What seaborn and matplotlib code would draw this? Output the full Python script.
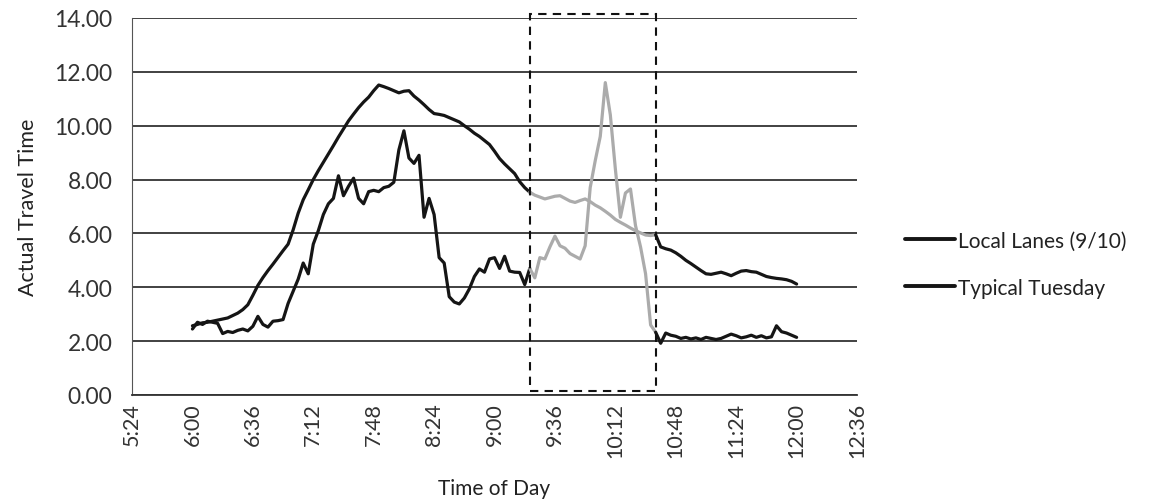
import numpy as np
import pandas as pd
import matplotlib
matplotlib.use("Agg")
import matplotlib.pyplot as plt
import seaborn as sns
from matplotlib.lines import Line2D
from matplotlib.patches import Rectangle
from matplotlib.ticker import FuncFormatter, MultipleLocator

# sample times, minutes after midnight, every 3 min from 6:00 to 12:00
minutes = list(range(360, 721, 3))

local_lanes = [
    2.45, 2.70, 2.62, 2.74, 2.70, 2.66, 2.28, 2.36, 2.32, 2.40,
    2.45, 2.38, 2.55, 2.92, 2.62, 2.52, 2.74, 2.76, 2.80, 3.40,
    3.85, 4.30, 4.90, 4.50, 5.60, 6.10, 6.70, 7.10, 7.30, 8.14,
    7.40, 7.75, 8.05, 7.30, 7.10, 7.55, 7.60, 7.55, 7.70, 7.75,
    7.90, 9.10, 9.81, 8.80, 8.60, 8.90, 6.60, 7.30, 6.70, 5.10,
    4.90, 3.65, 3.45, 3.38, 3.60, 3.94, 4.40, 4.68, 4.56, 5.05,
    5.10, 4.70, 5.15, 4.60, 4.56, 4.55, 4.10, 4.70, 4.35, 5.10,
    5.05, 5.50, 5.90, 5.54, 5.45, 5.25, 5.15, 5.05, 5.54, 7.70,
    8.70, 9.60, 11.60, 10.40, 8.39, 6.60, 7.50, 7.65, 6.29, 5.50,
    4.50, 2.60, 2.33, 1.92, 2.30, 2.22, 2.18, 2.10, 2.14, 2.08,
    2.12, 2.06, 2.14, 2.10, 2.06, 2.10, 2.18, 2.26, 2.20, 2.12,
    2.16, 2.22, 2.14, 2.20, 2.12, 2.16, 2.57, 2.35, 2.30, 2.22,
    2.14,
]

typical_tuesday = [
    2.57, 2.62, 2.68, 2.70, 2.74, 2.78, 2.82, 2.86, 2.95, 3.04,
    3.17, 3.35, 3.70, 4.07, 4.36, 4.62, 4.86, 5.11, 5.36, 5.60,
    6.13, 6.75, 7.25, 7.62, 8.00, 8.33, 8.64, 8.95, 9.26, 9.58,
    9.88, 10.18, 10.43, 10.67, 10.88, 11.06, 11.30, 11.51, 11.45, 11.38,
    11.30, 11.22, 11.28, 11.30, 11.10, 10.95, 10.78, 10.60, 10.45, 10.42,
    10.38, 10.30, 10.22, 10.14, 10.00, 9.87, 9.72, 9.60, 9.45, 9.30,
    9.05, 8.78, 8.58, 8.40, 8.22, 7.92, 7.70, 7.53, 7.42, 7.35,
    7.28, 7.33, 7.38, 7.40, 7.30, 7.20, 7.15, 7.22, 7.28, 7.18,
    7.05, 6.95, 6.82, 6.68, 6.52, 6.41, 6.31, 6.20, 6.10, 6.02,
    5.94, 5.92, 5.95, 5.50, 5.43, 5.38, 5.28, 5.15, 5.00, 4.88,
    4.75, 4.62, 4.50, 4.48, 4.52, 4.56, 4.50, 4.43, 4.52, 4.60,
    4.62, 4.58, 4.56, 4.48, 4.40, 4.36, 4.33, 4.31, 4.28, 4.22,
    4.12,
]

# highlighted window (dashed box), minutes after midnight
box_start, box_end = 561, 636
box_bottom, box_top = 0.15, 14.15

df = pd.DataFrame({"Minute": minutes,
                   "Local Lanes (9/10)": local_lanes,
                   "Typical Tuesday": typical_tuesday})

sns.set_style("white")
plt.rcParams["font.family"] = ["Lato", "DejaVu Sans"]

fig = plt.figure(figsize=(11.49, 5.02), dpi=100)
ax = fig.add_axes([0.1149, 0.2112, 0.6310, 0.7510])

before = df[df["Minute"] <= box_start]
inside = df[(df["Minute"] >= box_start) & (df["Minute"] <= box_end)]
after = df[df["Minute"] >= box_end]

for col in ["Local Lanes (9/10)", "Typical Tuesday"]:
    for part, colour in [(before, "#151515"), (inside, "#ababab"), (after, "#151515")]:
        sns.lineplot(data=part, x="Minute", y=col, ax=ax, color=colour,
                     linewidth=2.3, legend=False)

ax.add_patch(Rectangle((box_start, box_bottom), box_end - box_start,
                       box_top - box_bottom, fill=False, edgecolor="#111111",
                       linestyle=(0, (4, 3)), linewidth=1.5, clip_on=False,
                       zorder=5))

ax.set_xlim(324, 756)
ax.set_ylim(0, 14)
ax.xaxis.set_major_locator(MultipleLocator(36))
ax.xaxis.set_major_formatter(FuncFormatter(lambda v, p: f"{int(v // 60)}:{int(v % 60):02d}"))
ax.yaxis.set_major_locator(MultipleLocator(2))
ax.yaxis.set_major_formatter(FuncFormatter(lambda v, p: f"{v:.2f}"))
ax.tick_params(axis="x", labelrotation=90, labelsize=15.5, colors="#333333", length=0, pad=5)
ax.tick_params(axis="y", labelsize=16.5, colors="#333333", length=0, pad=14)

ax.grid(axis="y", color="#333333", linewidth=1.3)
ax.grid(axis="x", visible=False)
for side in ["top", "right"]:
    ax.spines[side].set_visible(False)
ax.spines["left"].set_color("#555555")
ax.spines["bottom"].set_color("#333333")
ax.spines["bottom"].set_linewidth(1.3)

ax.set_xlabel("Time of Day", fontsize=15, color="#222222", labelpad=15)
ax.set_ylabel("Actual Travel Time", fontsize=15.5, color="#222222", labelpad=12)

handles = [Line2D([0], [0], color="#151515", linewidth=2.8),
           Line2D([0], [0], color="#151515", linewidth=2.8)]
fig.legend(handles, ["Local Lanes (9/10)", "Typical Tuesday"],
           loc="center left", bbox_to_anchor=(0.779, 0.472), frameon=False,
           fontsize=15, handlelength=2.4, handletextpad=0.1, labelspacing=1.3,
           borderpad=0, labelcolor="#222222")

fig.savefig("out.png", dpi=100)
